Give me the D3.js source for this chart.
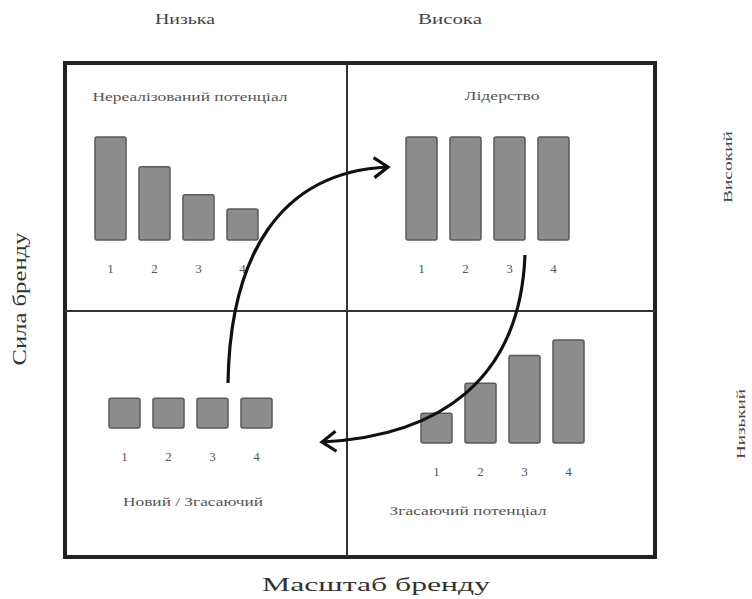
<!DOCTYPE html>
<html><head><meta charset="utf-8">
<script src="https://cdn.jsdelivr.net/npm/d3@7"></script>
<style>html,body{margin:0;padding:0;background:#fff}svg{display:block}</style>
</head><body>
<svg id="c" width="752" height="599"></svg>
<script>
// ---- data ----
const categories = ["1", "2", "3", "4"];
const unrealizedValues = [10, 7.1, 4.4, 3.0];     // Нереалізований потенціал
const leadershipValues = [10, 10, 10, 10];        // Лідерство
const newFadingValues = [2.9, 2.9, 2.9, 2.9];     // Новий / Згасаючий
const fadingPotentialValues = [2.9, 5.8, 8.5, 10];// Згасаючий потенціал
const quadrantTitles = ["Нереалізований потенціал", "Лідерство", "Новий / Згасаючий", "Згасаючий потенціал"];
const scaleLabels = ["Низька", "Висока"];
const strengthLabels = ["Високий", "Низький"];
const xAxisTitle = "Масштаб бренду";
const yAxisTitle = "Сила бренду";

const svg = d3.select("#c");
const font = "'Liberation Serif','DejaVu Serif',serif";

// frame
const L = 65, T = 63, R = 655, B = 557, MX = 347, MY = 311;
svg.append("rect").attr("x", L).attr("y", T).attr("width", R - L).attr("height", B - T)
  .attr("fill", "#fff").attr("stroke", "#222").attr("stroke-width", 4);
svg.append("line").attr("x1", MX).attr("x2", MX).attr("y1", T).attr("y2", B).attr("stroke", "#333").attr("stroke-width", 2);
svg.append("line").attr("x1", L).attr("x2", R).attr("y1", MY).attr("y2", MY).attr("stroke", "#333").attr("stroke-width", 2);

const y = d3.scaleLinear().domain([0, 10]).range([0, 103]);

const quads = [
  { values: unrealizedValues, range: [95, 258], base: 240, title: quadrantTitles[0], tx: 190, ty: 98, tl: 195 },
  { values: leadershipValues, range: [406, 569], base: 240, title: quadrantTitles[1], tx: 502, ty: 97, tl: 75 },
  { values: newFadingValues, range: [109, 272], base: 428, title: quadrantTitles[2], tx: 193, ty: 503, tl: 140 },
  { values: fadingPotentialValues, range: [421, 584], base: 443, title: quadrantTitles[3], tx: 468, ty: 512, tl: 157 }
];

quads.forEach(q => {
  const x = d3.scaleBand().domain(categories).range(q.range).paddingInner(0.295).paddingOuter(0);
  const g = svg.append("g");
  g.selectAll("rect").data(q.values).join("rect")
    .attr("x", (d, i) => x(categories[i]))
    .attr("y", d => q.base - y(d))
    .attr("width", x.bandwidth())
    .attr("height", d => y(d))
    .attr("rx", 2)
    .attr("fill", "#8c8c8c").attr("stroke", "#5a5a5a").attr("stroke-width", 1.5);
  const ax = svg.append("g").attr("transform", `translate(0,${q.base + 24})`)
    .call(d3.axisBottom(x).tickSize(0).tickPadding(0));
  ax.select(".domain").remove();
  ax.selectAll("text").attr("font-family", font).attr("font-size", 13).attr("fill", "#555");
  svg.append("text").attr("x", q.tx).attr("y", q.ty).attr("text-anchor", "middle")
    .attr("dominant-baseline", "middle")
    .attr("font-family", font).attr("font-size", 12).attr("fill", "#555")
    .attr("textLength", q.tl).attr("lengthAdjust", "spacingAndGlyphs")
    .text(q.title);
});

// arrows
const defs = svg.append("defs");
defs.append("marker").attr("id", "ah").attr("markerUnits", "userSpaceOnUse")
  .attr("viewBox", "-18 -13 22 26").attr("refX", 0).attr("refY", 0)
  .attr("markerWidth", 22).attr("markerHeight", 26).attr("orient", "auto")
  .append("path").attr("d", "M-14,-10 L0,0 L-14,10").attr("fill", "none")
  .attr("stroke", "#111").attr("stroke-width", 3.2).attr("stroke-linejoin", "miter");

const arrowPaths = [
  [[228, 383], [230, 258], [278, 172], [388, 167]],
  [[525, 255], [520, 380], [440, 436], [322, 442]]
];
arrowPaths.forEach(p => {
  const path = d3.path();
  path.moveTo(p[0][0], p[0][1]);
  path.bezierCurveTo(p[1][0], p[1][1], p[2][0], p[2][1], p[3][0], p[3][1]);
  svg.append("path").attr("d", path.toString()).attr("fill", "none")
    .attr("stroke", "#111").attr("stroke-width", 3.2).attr("marker-end", "url(#ah)");
});

// axis labels
svg.append("text").attr("x", 185).attr("y", 21).attr("text-anchor", "middle").attr("dominant-baseline", "middle")
  .attr("font-family", font).attr("font-size", 14).attr("fill", "#444")
  .attr("textLength", 60).attr("lengthAdjust", "spacingAndGlyphs").text(scaleLabels[0]);
svg.append("text").attr("x", 450).attr("y", 21).attr("text-anchor", "middle").attr("dominant-baseline", "middle")
  .attr("font-family", font).attr("font-size", 14).attr("fill", "#444")
  .attr("textLength", 64).attr("lengthAdjust", "spacingAndGlyphs").text(scaleLabels[1]);

svg.append("text").attr("transform", "translate(729,167) rotate(-90)").attr("text-anchor", "middle").attr("dominant-baseline", "middle")
  .attr("font-family", font).attr("font-size", 13).attr("fill", "#444")
  .attr("textLength", 72).attr("lengthAdjust", "spacingAndGlyphs").text(strengthLabels[0]);
svg.append("text").attr("transform", "translate(742,424) rotate(-90)").attr("text-anchor", "middle").attr("dominant-baseline", "middle")
  .attr("font-family", font).attr("font-size", 13).attr("fill", "#444")
  .attr("textLength", 70).attr("lengthAdjust", "spacingAndGlyphs").text(strengthLabels[1]);

svg.append("text").attr("transform", "translate(22,299) rotate(-90)").attr("text-anchor", "middle").attr("dominant-baseline", "middle")
  .attr("font-family", font).attr("font-size", 19).attr("fill", "#333")
  .attr("textLength", 133).attr("lengthAdjust", "spacingAndGlyphs").text(yAxisTitle);

svg.append("text").attr("x", 376).attr("y", 587).attr("text-anchor", "middle").attr("dominant-baseline", "middle")
  .attr("font-family", font).attr("font-size", 19).attr("fill", "#333")
  .attr("textLength", 228).attr("lengthAdjust", "spacingAndGlyphs").text(xAxisTitle);
</script>
</body></html>
